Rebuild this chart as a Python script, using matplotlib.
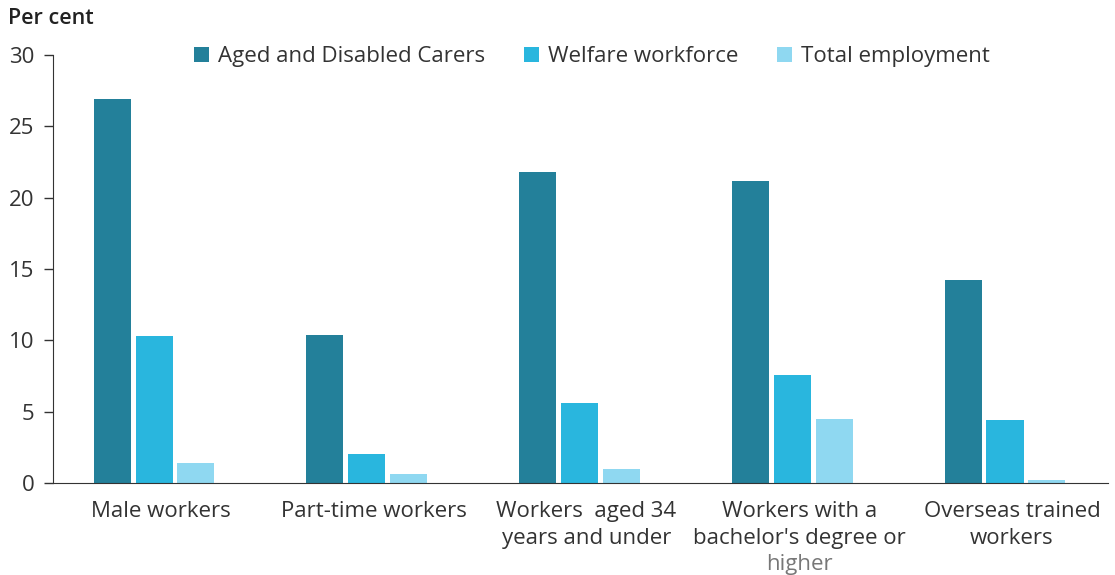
import numpy as np
import matplotlib.pyplot as plt

plt.rcParams['font.family'] = ['Open Sans', 'DejaVu Sans']

categories = ["Male workers", "Part-time workers", "Workers  aged 34\nyears and under",
              "Workers with a\nbachelor's degree or", "Overseas trained\nworkers"]
series = ["Aged and Disabled Carers", "Welfare workforce", "Total employment"]
carers = [26.9, 10.4, 21.8, 21.2, 14.2]
welfare = [10.3, 2.0, 5.6, 7.6, 4.4]
total = [1.4, 0.6, 1.0, 4.5, 0.2]
colors = ["#23809a", "#29b6de", "#8fd8f1"]

fs = 16
fig = plt.figure(figsize=(11.15, 5.75), dpi=100)
ax = fig.add_axes([0.0475, 0.16, 0.946, 0.7443])

x = np.arange(len(categories))
w = 0.174
step = 0.197
shift = -0.033
for i, (vals, name) in enumerate(zip([carers, welfare, total], series)):
    ax.bar(x + (i - 1) * step + shift, vals, w, color=colors[i], label=name)

ax.set_xlim(-0.508, 4.45)
ax.set_ylim(0, 30)
ax.set_yticks(range(0, 31, 5))
ax.set_xticks(x)
ax.set_xticklabels(categories, fontsize=fs, color="#333333", linespacing=1.35)
ax.tick_params(axis='x', length=0, pad=13)
ax.tick_params(axis='y', length=6.5, width=1, color="#333333", labelsize=fs,
               labelcolor="#333333", pad=7)
for s in ["top", "right"]:
    ax.spines[s].set_visible(False)
ax.spines["left"].set_color("#333333")
ax.spines["bottom"].set_color("#333333")

# grey third line of the bachelor label
ax.text(3, -6.1, "higher", ha="center", va="baseline", fontsize=fs, color="#777777")

ax.legend(loc="center", bbox_to_anchor=(0.511, 0.996), ncol=3, frameon=False,
          fontsize=fs, handlelength=0.68, handleheight=0.68, handletextpad=0.4,
          columnspacing=1.75, labelcolor="#333333", borderpad=0)

fig.text(0.007, 0.968, "Per cent", fontsize=15.5, fontweight="semibold",
         color="#222222", va="center")

fig.savefig("out.png", dpi=100)
